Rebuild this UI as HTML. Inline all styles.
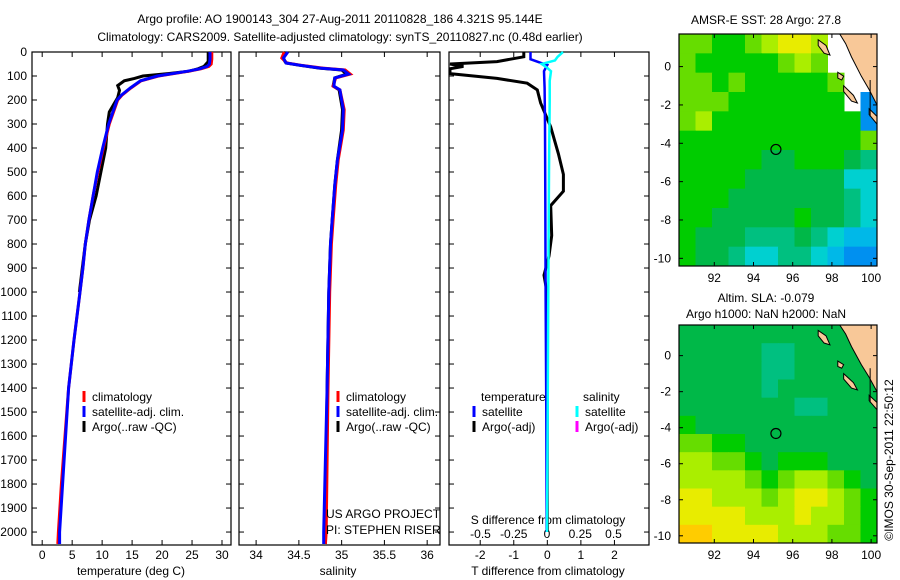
<!DOCTYPE html>
<html><head><meta charset="utf-8"><style>
html,body{margin:0;padding:0;background:#fff;}
svg{display:block;font-family:"Liberation Sans",sans-serif;}
text{fill:#000;font-size:12px;}
</style></head><body>
<svg id="fig" width="900" height="580" viewBox="0 0 900 580" xmlns="http://www.w3.org/2000/svg">
<text x="340" y="23" text-anchor="middle" font-size="13">Argo profile: AO 1900143_304 27-Aug-2011 20110828_186 4.321S 95.144E</text>
<text x="340" y="41" text-anchor="middle" font-size="13">Climatology: CARS2009. Satellite-adjusted climatology: synTS_20110827.nc (0.48d earlier)</text>
<text x="766" y="24" text-anchor="middle">AMSR-E SST: 28 Argo: 27.8</text>
<text x="766" y="302" text-anchor="middle">Altim. SLA: -0.079</text>
<text x="766" y="318" text-anchor="middle">Argo h1000: NaN h2000: NaN</text>
<text transform="translate(893,460) rotate(-90)" text-anchor="middle">©IMOS 30-Sep-2011 22:50:12</text>
<g id="plots"></g>
</svg>
<script>
// ---------- profile data ----------
const climDepth = [0,30,50,60,70,80,100,120,150,180,200,250,300,400,500,600,700,800,900,1000,1200,1400,1600,1800,2000,2050];
const climTemp  = [28.3,28.3,28.2,27.8,26.5,24.5,19.4,16.5,14.8,13.3,12.6,11.9,11.2,10.2,9.3,8.5,7.8,7.2,6.8,6.3,5.3,4.4,3.8,3.2,2.7,2.6];
const satTemp   = [28.0,28.0,27.9,27.5,26.3,24.3,19.2,16.4,14.7,13.2,12.5,11.8,11.1,10.1,9.2,8.5,7.8,7.2,6.8,6.3,5.3,4.4,3.9,3.4,2.9,2.9];
const argoDepth = [0,40,60,70,80,90,100,110,120,140,160,190,220,250,300,400,500,600,700,800,900,1000];
const argoTemp  = [27.7,27.7,27.0,26.0,24.5,21.0,16.8,15.4,13.7,12.6,12.9,12.6,11.9,11.2,10.9,10.6,9.8,9.0,7.9,7.2,6.7,6.2];
const salDepth  = [0,25,46,55,67,75,92,108,142,158,240,325,450,554,700,800,1000,1400,2000,2050];
const climSal   = [34.33,34.30,34.36,34.52,34.78,35.04,35.10,34.93,34.90,34.98,35.03,35.02,34.96,34.93,34.90,34.88,34.86,34.84,34.82,34.81];
const satSal    = [34.37,34.32,34.35,34.51,34.75,35.02,35.08,34.92,34.91,34.98,35.02,35.01,34.95,34.92,34.89,34.87,34.85,34.83,34.79,34.79];
const argoSal   = [34.35,34.31,34.35,34.50,34.74,35.00,35.06,34.92,34.90,34.97,35.01,35.00,34.95,34.92,34.89,34.87,34.85,34.83,34.81,34.81];
const dTDepth   = [0,20,40,50,60,70,90,110,130,158,212,312,424,510,580,640,765,850,930,1010,1200,1500,2000];
const dTArgo    = [-0.7,-0.7,-1.5,-2.9,-2.5,-2.9,-2.9,-1.5,-0.6,-0.3,-0.2,0.1,0.33,0.48,0.48,0.1,0.13,0.05,-0.1,0.0,0.0,0.0,0.0];
const dTSatDepth= [0,30,45,54,80,150,300,600,1000,1500,2000];
const dTSat     = [-0.5,-0.5,-0.2,0.0,-0.1,-0.08,-0.07,-0.06,-0.05,-0.03,-0.02];
const dSDepth   = [0,10,20,35,50,65,80,120,200,500,1000,1500,2000];
const dSSat     = [0.12,0.10,0.08,0.06,-0.04,0.0,0.03,0.02,0.02,0.015,0.01,0.005,0.0];
const depthTicks = [0,100,200,300,400,500,600,700,800,900,1000,1100,1200,1300,1400,1500,1600,1700,1800,1900,2000];
const tempTicks = [0,5,10,15,20,25,30];
const salTicks = [34,34.5,35,35.5,36];
const dTTicks = [-2,-1,0,1,2];
const dSTicks = [-0.5,-0.25,0,0.25,0.5];
// ---------- map data (12 lon cols x 12 lat rows, colour index 0..10, -1 = no data) ----------
const sstGrid = [
[7,7,6,6,7,8,9,9,8,-1,-1,-1],
[7,6,6,6,6,6,7,8,7,-1,-1,-1],
[7,7,6,7,6,6,6,6,6,7,-1,-1],
[7,7,7,6,6,6,6,6,6,6,-1,1],
[7,8,6,6,6,6,6,6,6,6,6,1],
[6,6,6,6,6,6,6,6,6,6,6,7],
[6,6,6,6,6,5,5,6,6,6,5,4],
[6,6,6,6,5,5,5,5,5,5,3,3],
[6,6,6,5,5,5,5,5,5,5,4,3],
[6,6,5,5,5,5,5,6,5,5,4,3],
[6,5,5,5,4,4,4,5,4,3,2,2],
[6,5,5,4,3,3,4,4,3,2,1,1]];
const slaGrid = [
[5,5,5,5,5,5,5,5,5,5,5,5],
[5,5,5,5,5,4,4,5,5,5,5,5],
[5,5,5,5,5,4,4,5,5,5,5,5],
[5,5,5,5,5,4,5,5,5,5,5,5],
[5,5,5,5,5,5,5,4,4,5,5,5],
[6,5,5,5,5,5,5,5,5,5,5,5],
[7,7,6,6,5,5,5,5,5,5,5,5],
[8,8,7,7,6,5,6,6,6,5,5,5],
[8,8,8,8,7,6,7,8,8,7,6,5],
[9,9,8,8,8,7,8,9,9,8,7,6],
[9,9,9,9,8,8,8,9,8,8,7,6],
[10,10,9,9,9,9,8,8,8,7,7,6]];
const lonTicks = [92,94,96,98,100];
const latTicks = [0,-2,-4,-6,-8,-10];
const argoLon = 95.144, argoLat = -4.321;

const palette = ['#0050e0','#0090f0','#00b8e8','#00d0d0','#00c080','#00b848','#00cc00','#66dd00','#aaee00','#e8ec00','#ffcc00'];
const NS='http://www.w3.org/2000/svg';
const root=document.getElementById('plots');
function el(tag,attrs,parent){const e=document.createElementNS(NS,tag);for(const k in attrs)e.setAttribute(k,attrs[k]);(parent||root).appendChild(e);return e;}
function txt(x,y,s,anchor,parent){const t=el('text',{x:x,y:y,'text-anchor':anchor||'start'},parent);t.textContent=s;return t;}

const top0=52, bot0=545, dMax=2054;
const yD = d => top0 + d*(bot0-top0)/dMax;

function panel(name,x0,x1,xmin,xmax){
  const g=el('g',{});
  
  
  const r=el('rect',{x:x0,y:top0,width:x1-x0,height:bot0-top0,fill:'none',stroke:'#000','stroke-width':1.2},g);
  
  
  const sx=v=>x0+(v-xmin)*(x1-x0)/(xmax-xmin);
  depthTicks.forEach(d=>{
    el('line',{x1:x0,x2:x0+5,y1:yD(d),y2:yD(d),stroke:'#000'},g);
    el('line',{x1:x1,x2:x1-5,y1:yD(d),y2:yD(d),stroke:'#000'},g);
  });
  return {g,sx};
}
function line(g,xs,ds,sx,color,w,name){
  const pts=xs.map((v,i)=>sx(v).toFixed(1)+','+yD(ds[i]).toFixed(1)).join(' ');
  const p=el('polyline',{points:pts,fill:'none',stroke:color,'stroke-width':w},g);
  
  
}
function legend(g,x,y,color,label){
  el('line',{x1:x,x2:x,y1:y-10,y2:y+1,stroke:color,'stroke-width':3},g);
  const t=txt(x+8,y,label,'start',g);
  
  
}

// Panel 1: temperature
const p1=panel('temperature-panel',32,231,-1.7,31.5);
depthTicks.forEach(d=>{txt(27,yD(d)+4,String(d),'end',p1.g);});
tempTicks.forEach(v=>{
  el('line',{x1:p1.sx(v),x2:p1.sx(v),y1:top0,y2:top0+5,stroke:'#000'},p1.g);
  el('line',{x1:p1.sx(v),x2:p1.sx(v),y1:bot0,y2:bot0-5,stroke:'#000'},p1.g);
  txt(p1.sx(v),559,String(v),'middle',p1.g);
});
txt(131,575,'temperature (deg C)','middle',p1.g);
line(p1.g,argoTemp,argoDepth,p1.sx,'#000',3,'argo-temperature-line');
line(p1.g,climTemp,climDepth,p1.sx,'#f00',3,'climatology-temperature-line');
line(p1.g,satTemp,climDepth,p1.sx,'#00f',3,'satellite-temperature-line');
legend(p1.g,84,401,'#f00','climatology');
legend(p1.g,84,416,'#00f','satellite-adj. clim.');
legend(p1.g,84,431,'#000','Argo(..raw -QC)');

// Panel 2: salinity
const p2=panel('salinity-panel',239,440,33.8,36.15);
salTicks.forEach(v=>{
  el('line',{x1:p2.sx(v),x2:p2.sx(v),y1:top0,y2:top0+5,stroke:'#000'},p2.g);
  el('line',{x1:p2.sx(v),x2:p2.sx(v),y1:bot0,y2:bot0-5,stroke:'#000'},p2.g);
  txt(p2.sx(v),559,String(v),'middle',p2.g);
});
txt(338,575,'salinity','middle',p2.g);
line(p2.g,argoSal,salDepth,p2.sx,'#000',3,'argo-salinity-line');
line(p2.g,climSal,salDepth,p2.sx,'#f00',3,'climatology-salinity-line');
line(p2.g,satSal,salDepth.slice(0,satSal.length),p2.sx,'#00f',3,'satellite-salinity-line');
legend(p2.g,338,401,'#f00','climatology');
legend(p2.g,338,416,'#00f','satellite-adj. clim.');
legend(p2.g,338,431,'#000','Argo(..raw -QC)');
txt(326,518,'US ARGO PROJECT','start',p2.g);
txt(326,534,'PI: STEPHEN RISER','start',p2.g);

// Panel 3: differences
const p3=panel('difference-panel',449,649,-2.93,3.03);
const sxS=v=>547+v*133;
dTTicks.forEach(v=>{
  el('line',{x1:p3.sx(v),x2:p3.sx(v),y1:top0,y2:top0+5,stroke:'#000'},p3.g);
  el('line',{x1:p3.sx(v),x2:p3.sx(v),y1:bot0,y2:bot0-5,stroke:'#000'},p3.g);
  txt(p3.sx(v),559,String(v),'middle',p3.g);
});
dSTicks.forEach(v=>{txt(sxS(v),538,String(v),'middle',p3.g);});
txt(548,524,'S difference from climatology','middle',p3.g);
txt(548,575,'T difference from climatology','middle',p3.g);
line(p3.g,dTArgo,dTDepth,p3.sx,'#000',3,'argo-t-difference-line');
line(p3.g,dTSat,dTSatDepth,p3.sx,'#00f',2.5,'satellite-t-difference-line');
line(p3.g,dSSat,dSDepth,sxS,'#0ff',2.5,'satellite-s-difference-line');
txt(481,401,'temperature','start',p3.g);
txt(583,401,'salinity','start',p3.g);
legend(p3.g,474,416,'#00f','satellite');
legend(p3.g,474,431,'#000','Argo(-adj)');
legend(p3.g,577,416,'#0ff','satellite');
legend(p3.g,577,431,'#f0f','Argo(-adj)');

// Maps
function mapPanel(name,grid,y0,y1){
  const x0=679,x1=877;
  const g=el('g',{});
  
  
  const lonMin=90.2,lonMax=100.3,latMax=1.7,latMin=-10.4;
  const mx=lon=>x0+(lon-lonMin)*(x1-x0)/(lonMax-lonMin);
  const my=lat=>y0+(latMax-lat)*(y1-y0)/(latMax-latMin);
  const rows=grid.length, cols=grid[0].length;
  const cw=(x1-x0)/cols, ch=(y1-y0)/rows;
  grid.forEach((row,r)=>row.forEach((v,c)=>{
    if(v<0)return;
    const cell=el('rect',{x:(x0+c*cw).toFixed(2),y:(y0+r*ch).toFixed(2),width:(cw+0.5).toFixed(2),height:(ch+0.5).toFixed(2),fill:palette[v]},g);
    
    
  }));
  const land=[[98.4,1.7],[100.3,1.7],[100.3,-2.0],[99.9,-1.2],[99.5,-0.5],[99.0,0.5],[98.7,1.2]];
  const lp=el('polygon',{points:land.map(p=>mx(p[0])+','+my(p[1])).join(' '),fill:'#f8c898',stroke:'#000','stroke-width':1},g);
  
  
  const islands=[[[97.3,1.4],[97.7,1.1],[97.9,0.6],[97.6,0.7],[97.3,1.1]],
                 [[98.3,-0.3],[98.6,-0.5],[98.5,-0.7],[98.3,-0.6]],
                 [[98.6,-1.0],[99.1,-1.5],[99.3,-1.9],[99.0,-1.8],[98.6,-1.3]],
                 [[99.9,-2.2],[100.3,-2.6],[100.3,-3.0],[99.9,-2.5]]];
  islands.forEach(isl=>{
    const ip=el('polygon',{points:isl.map(p=>mx(p[0])+','+my(p[1])).join(' '),fill:'#f8c898',stroke:'#000','stroke-width':1},g);
    
    
  });
  el('line',{x1:mx(99.95),x2:mx(99.95),y1:my(-0.7),y2:my(-2.6),stroke:'#000'},g);
  const fr=el('rect',{x:x0,y:y0,width:x1-x0,height:y1-y0,fill:'none',stroke:'#000','stroke-width':1.2},g);
  
  
  lonTicks.forEach(v=>{
    el('line',{x1:mx(v),x2:mx(v),y1:y0,y2:y0+4,stroke:'#000'},g);
    el('line',{x1:mx(v),x2:mx(v),y1:y1,y2:y1-4,stroke:'#000'},g);
    txt(mx(v),y1+16,String(v),'middle',g);
  });
  latTicks.forEach(v=>{
    el('line',{x1:x0,x2:x0+4,y1:my(v),y2:my(v),stroke:'#000'},g);
    el('line',{x1:x1,x2:x1-4,y1:my(v),y2:my(v),stroke:'#000'},g);
    txt(x0-8,my(v)+4,String(v),'end',g);
  });
  const c=el('circle',{cx:mx(argoLon),cy:my(argoLat),r:5,fill:'none',stroke:'#000','stroke-width':1.2},g);
  
  
}
mapPanel('sst-map',sstGrid,34,266);
mapPanel('sla-map',slaGrid,325,543);
</script>
</body></html>
